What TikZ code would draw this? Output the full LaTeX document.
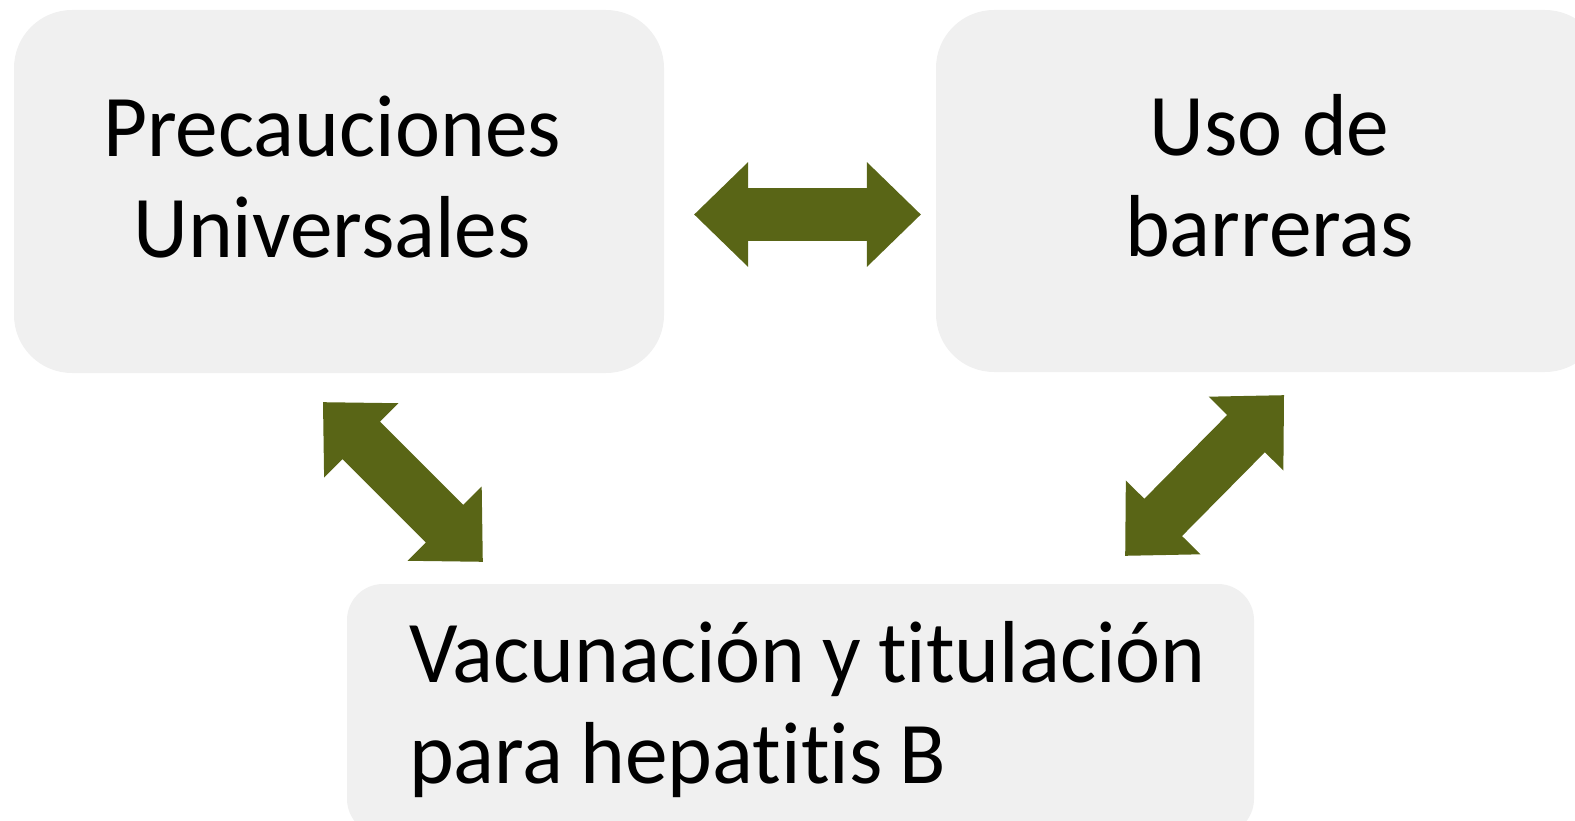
\documentclass[tikz,border=0pt]{standalone}
\usepackage{fontspec}
\setmainfont{Carlito}[FakeStretch=0.97, Ligatures=NoCommon]
\usepackage{xcolor}
\usetikzlibrary{calc}

\definecolor{boxgray}{RGB}{240,240,240}
\definecolor{olivegreen}{RGB}{89,101,22}

% block arrow with a head at both ends, from #1 to #2
\newcommand{\blockarrow}[2]{%
  \fill[olivegreen] (#1)
    -- ($(#1)!75.31pt!44.19:(#2)$) -- ($(#1)!60.15pt!26.14:(#2)$)
    -- ($(#2)!60.15pt!-26.14:(#1)$) -- ($(#2)!75.31pt!-44.19:(#1)$)
    -- (#2)
    -- ($(#2)!75.31pt!44.19:(#1)$) -- ($(#2)!60.15pt!26.14:(#1)$)
    -- ($(#1)!60.15pt!-26.14:(#2)$) -- ($(#1)!75.31pt!-44.19:(#2)$)
    -- cycle;}
\newcommand{\tightspace}{\spaceskip=17pt\relax}

\tikzset{
  mainbox/.style={fill=boxgray, rounded corners=58pt, align=center, inner sep=0pt,
    font=\fontsize{88}{101}\selectfont}
}

\begin{document}
\begin{tikzpicture}[x=1pt,y=-1pt]
  \useasboundingbox (0,0) rectangle (1575,821);
  \clip (0,0) rectangle (1575,821);

  \node[mainbox, minimum width=650pt, minimum height=363pt, text depth=30pt] (pu) at (339,191.5)
    {\hspace*{-14pt}Precauciones\\\hspace*{-14pt}Universales};
  \node[mainbox, minimum width=667pt, minimum height=362pt, text depth=32pt] (ub) at (1269.5,191) {Uso de\\barreras};
  \node[mainbox, rounded corners=36pt, align=left, minimum width=907pt, minimum height=251pt,
    text width=830pt] (vh) at (800.5,709.5)
    {\tightspace\hspace*{23.5pt}\mbox{Vacunación y titulación}\\\hspace*{23.5pt}\mbox{para hepatitis B}};

  \coordinate (h1) at ($(pu.east)+(30,23)$);
  \coordinate (h2) at ($(ub.west)+(-15,23.5)$);
  \coordinate (l1) at ($(pu.south)+(-16,29)$);
  \coordinate (l2) at ($(vh.north west)+(136,-22)$);
  \coordinate (r1) at ($(vh.north east)+(-129,-28)$);
  \coordinate (r2) at ($(ub.south)+(14.5,23)$);

  \blockarrow{h1}{h2}
  \blockarrow{l1}{l2}
  \blockarrow{r1}{r2}
\end{tikzpicture}
\end{document}
